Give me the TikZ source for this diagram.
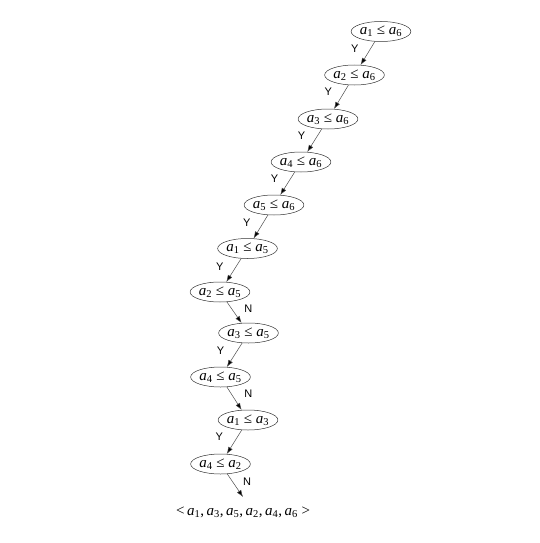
\documentclass[tikz,border=0pt]{standalone}
\usepackage{fontspec}
\setmainfont{Liberation Serif}
\newfontfamily\labfont{Liberation Sans}
\usetikzlibrary{arrows.meta,shapes.geometric}
\newcommand\va[1]{\textit{a}\textsubscript{#1}}
\begin{document}
\begin{tikzpicture}[x=1pt,y=-1pt,
 cmp/.style={draw=black!80, line width=0.5pt, ellipse, minimum width=55pt, minimum height=20pt, inner sep=0pt, font=\fontsize{15}{15}\selectfont},
 edge/.style={draw=black!70, line width=0.5pt, -{Latex[length=7pt,width=5pt,fill=black]}},
 yn/.style={font=\labfont\fontsize{11}{11}\selectfont, inner sep=0pt}]
\useasboundingbox (0,0) rectangle (540,543);
\node[cmp] (n1) at (381,31.5) {\va1 ≤ \va6};
\node[cmp] (n2) at (354.5,75) {\va2 ≤ \va6};
\node[cmp] (n3) at (328,119) {\va3 ≤ \va6};
\node[cmp] (n4) at (301,162) {\va4 ≤ \va6};
\node[cmp] (n5) at (274,205) {\va5 ≤ \va6};
\node[cmp] (n6) at (247.5,248.5) {\va1 ≤ \va5};
\node[cmp] (n7) at (220,292) {\va2 ≤ \va5};
\node[cmp] (n8) at (248.5,333) {\va3 ≤ \va5};
\node[cmp] (n9) at (220.5,377) {\va4 ≤ \va5};
\node[cmp] (n10) at (248,420) {\va1 ≤ \va3};
\node[cmp] (n11) at (220.5,464) {\va4 ≤ \va2};
\node[inner sep=0pt, font=\fontsize{15}{15}\selectfont] (fin) at (243,512) {<\,\va1,\,\va3,\,\va5,\,\va2,\,\va4,\,\va6\ >};
\coordinate (tip) at (243,497);
\draw[edge] (n1) -- (n2) node[yn, midway, xshift=-13pt, yshift=5pt] {Y};
\draw[edge] (n2) -- (n3) node[yn, midway, xshift=-13pt, yshift=5pt] {Y};
\draw[edge] (n3) -- (n4) node[yn, midway, xshift=-13pt, yshift=5pt] {Y};
\draw[edge] (n4) -- (n5) node[yn, midway, xshift=-13pt, yshift=5pt] {Y};
\draw[edge] (n5) -- (n6) node[yn, midway, xshift=-14pt, yshift=4pt] {Y};
\draw[edge] (n6) -- (n7) node[yn, midway, xshift=-14pt, yshift=4pt] {Y};
\draw[edge] (n7) -- (n8) node[yn, midway, xshift=14pt, yshift=4pt] {N};
\draw[edge] (n8) -- (n9) node[yn, midway, xshift=-14pt, yshift=4pt] {Y};
\draw[edge] (n9) -- (n10) node[yn, midway, xshift=14pt, yshift=5pt] {N};
\draw[edge] (n10) -- (n11) node[yn, midway, xshift=-15pt, yshift=5pt] {Y};
\draw[edge] (n11) -- (tip) node[yn, midway, xshift=12pt, yshift=4pt] {N};
\end{tikzpicture}
\end{document}
